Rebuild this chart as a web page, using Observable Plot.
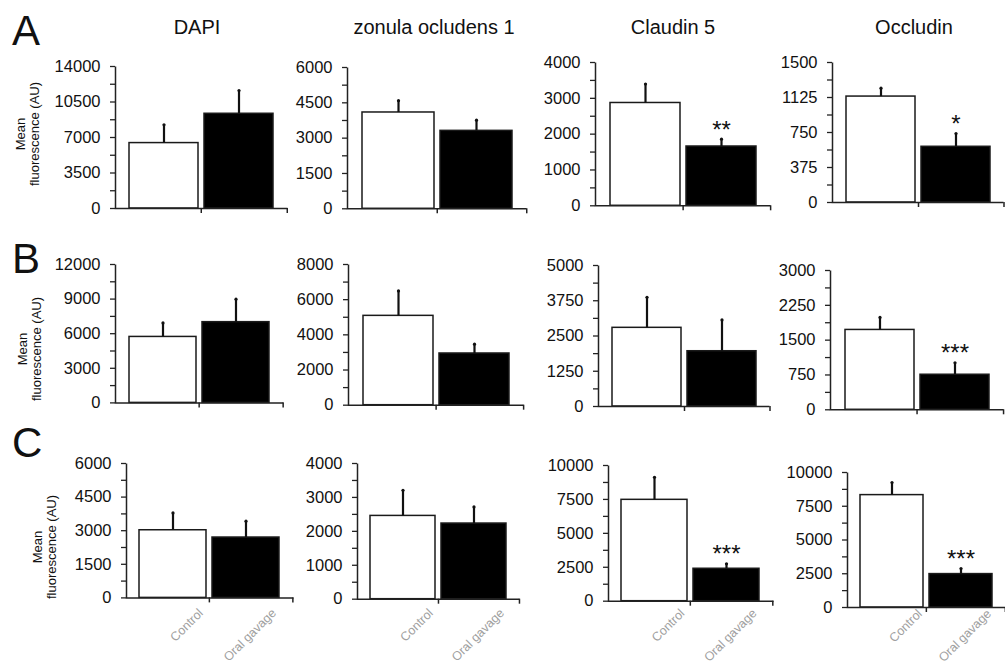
<!DOCTYPE html>
<html>
<head>
<meta charset="utf-8">
<script src="https://cdn.jsdelivr.net/npm/d3@7"></script>
<script src="https://cdn.jsdelivr.net/npm/@observablehq/plot@0.6"></script>
<style>
  html, body { margin: 0; padding: 0; background: #fff; }
  #fig { position: relative; width: 1005px; height: 667px; overflow: hidden; background: #fff;
         font-family: "Liberation Sans", Arial, sans-serif; color: #111; }
  .abs { position: absolute; white-space: nowrap; line-height: 1; }
</style>
</head>
<body>
<div id="fig"></div>
<script>
// ---------------- data ----------------
const rowLetters = ["A", "B", "C"];
const markers = ["DAPI", "zonula ocludens 1", "Claudin 5", "Occludin"];
const groups = ["Control", "Oral gavage"];
const yAxisTitle = ["Mean", "fluorescence (AU)"];

const controlMean = [[6450, 4090, 2870, 1135], [5720, 5080, 2790, 1720], [3020, 2455, 7470, 8325]];
const controlSem  = [[1800, 500, 530, 90],     [1215, 1420, 1085, 270],  [775, 755, 1665, 935]];
const gavageMean  = [[9340, 3310, 1655, 597],  [7000, 2940, 1960, 755],  [2695, 2230, 2390, 2475]];
const gavageSem   = [[2290, 455, 205, 142],    [1990, 530, 1110, 258],   [730, 490, 365, 415]];
const gavageSig   = [["", "", "**", "*"], ["", "", "", "***"], ["", "", "***", "***"]];

const yTickLabels = [
  [[0, 3500, 7000, 10500, 14000], [0, 1500, 3000, 4500, 6000], [0, 1000, 2000, 3000, 4000], [0, 375, 750, 1125, 1500]],
  [[0, 3000, 6000, 9000, 12000],  [0, 2000, 4000, 6000, 8000], [0, 1250, 2500, 3750, 5000], [0, 750, 1500, 2250, 3000]],
  [[0, 1500, 3000, 4500, 6000],   [0, 1000, 2000, 3000, 4000], [0, 2500, 5000, 7500, 10000], [0, 2500, 5000, 7500, 10000]]
];

// ---------------- layout (pixels) ----------------
// [axis left, frame right, top tick, zero line]
const frames = [
  [[115, 287, 66, 208],    [347, 526, 66.7, 208], [595, 770, 61.7, 205], [832, 1003, 61.7, 201.7]],
  [[115, 283, 264.3, 402.7], [348, 523, 264.3, 405], [598, 769, 265, 406], [830, 1003, 270, 409.3]],
  [[126, 293, 463.3, 597.7], [357, 519, 463.3, 599], [608, 773, 465, 600.7], [847, 1005, 471.7, 606.7]]
];
const letterTops = [9.5, 237.5, 422];
const titleCenters = [197, 434, 673, 914];
const yTitleCenters = [[28, 134], [30, 349], [45, 547]];
const xLabelLine = 598; // where rotated category labels hang from

const fig = document.getElementById("fig");

function addDiv(html, style) {
  const d = document.createElement("div");
  d.className = "abs";
  d.innerHTML = html;
  Object.assign(d.style, style);
  fig.appendChild(d);
  return d;
}

// row letters
rowLetters.forEach((L, r) => addDiv(L, {left: "12px", top: letterTops[r] + "px", fontSize: "42px"}));
// column titles
markers.forEach((m, c) => addDiv(m, {left: titleCenters[c] + "px", top: "17px", fontSize: "20px",
  transform: "translateX(-50%)"}));
// y axis titles
yTitleCenters.forEach(([x, y]) => addDiv(yAxisTitle.join("<br>"), {
  left: x + "px", top: y + "px", fontSize: "13px", lineHeight: "14px", textAlign: "center",
  transform: "translate(-50%,-50%) rotate(-90deg)"}));

function panel(r, c) {
  const [xL, xR, yT, y0] = frames[r][c];
  const mL = 80, mR = 8, mT = 30, mB = r === 2 ? 70 : 12;
  const fw = xR - xL, fh = y0 - yT;
  const pi = 0.08, po = 0.18;
  const step = fw / (2 - pi + 2 * po), bw = step * (1 - pi);
  const table = groups.map((g, i) => ({
    group: g,
    mean: i ? gavageMean[r][c] : controlMean[r][c],
    sem: i ? gavageSem[r][c] : controlSem[r][c],
    sig: i ? gavageSig[r][c] : ""
  }));
  const ticks = yTickLabels[r][c];
  const minor = d3.pairs(ticks, (a, b) => (a + b) / 2);
  const axisColor = "#222";
  const marks = [
    Plot.barY(table, {x: "group", y: "mean", fill: "group", stroke: "#1a1a1a", strokeWidth: 1.5}),
    Plot.ruleX(table, {x: "group", y1: "mean", y2: d => d.mean + d.sem, stroke: "#111", strokeWidth: 2.2}),
    Plot.dot(table, {x: "group", y: d => d.mean + d.sem, r: 1.6, fill: "#111"}),
    Plot.text(table, {x: "group", y: d => d.mean + d.sem, text: "sig", fontSize: 24, dy: -9, fill: "#111"}),
    Plot.frame({stroke: axisColor, strokeWidth: 1.5, strokeDasharray: `0 ${fw + fh} ${fw + fh}`}),
    Plot.ruleX([groups[1]], {x: d => d, y1: 0, y2: 0, insetBottom: -5, dx: -step / 2, stroke: axisColor, strokeWidth: 1.5}),
    Plot.ruleX([groups[1]], {x: d => d, y1: 0, y2: 0, insetBottom: -5, dx: bw / 2 + po * step, stroke: axisColor, strokeWidth: 1.5}),
    Plot.axisY({ticks, tickSize: 5, tickPadding: 10, tickFormat: d3.format("d"), label: null, stroke: axisColor, fill: "#111", strokeWidth: 1.3}),
    Plot.axisY({ticks: minor, tickSize: 5, tickFormat: () => "", label: null, stroke: axisColor, strokeWidth: 1.3})
  ];
  if (r === 2) {
    marks.push(Plot.axisX({tickSize: 0, tickRotate: -45, fill: "#a0a0a0", fontSize: 12.5,
      dx: 28, dy: 1 - (y0 - xLabelLine), label: null}));
  }
  const svg = Plot.plot({
    width: mL + fw + mR,
    height: mT + fh + mB,
    marginLeft: mL, marginRight: mR, marginTop: mT, marginBottom: mB,
    x: {domain: groups, paddingInner: pi, paddingOuter: po, axis: r === 2 ? undefined : null, label: null},
    y: {domain: [ticks[0], ticks[ticks.length - 1]], label: null},
    color: {domain: groups, range: ["white", "black"]},
    style: {background: "transparent", overflow: "visible", fontFamily: "Liberation Sans, Arial, sans-serif", fontSize: "16.5px", color: "#111"},
    marks
  });
  svg.style.position = "absolute";
  svg.style.left = (xL - mL) + "px";
  svg.style.top = (yT - mT) + "px";
  svg.style.maxWidth = "none";
  fig.appendChild(svg);
}

for (let r = 0; r < 3; r++) for (let c = 0; c < 4; c++) panel(r, c);
</script>
</body>
</html>
